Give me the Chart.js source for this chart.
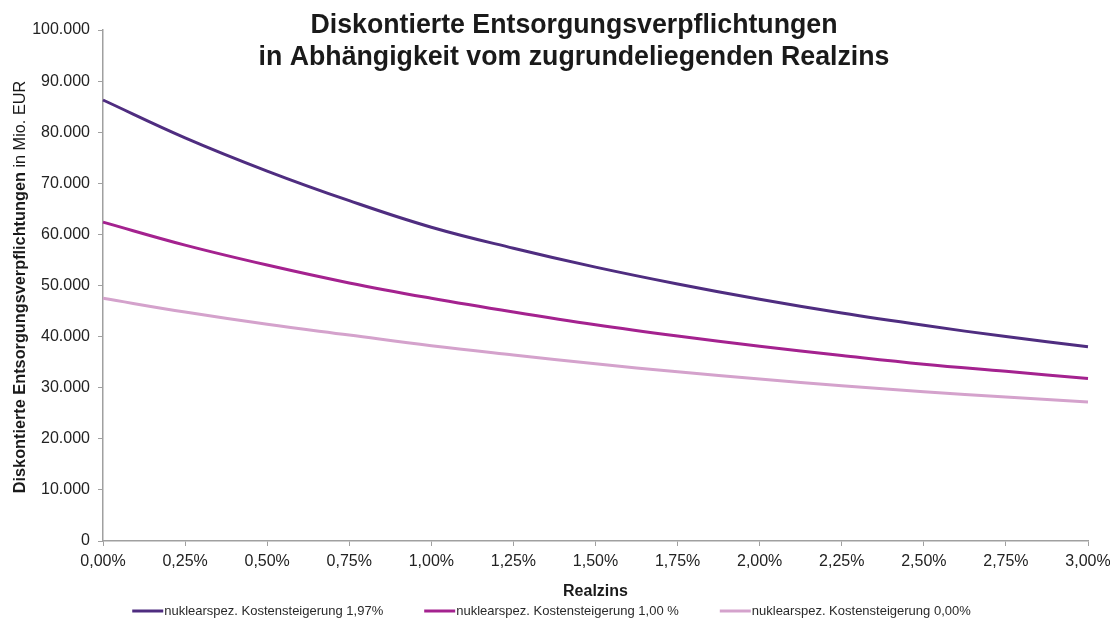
<!DOCTYPE html>
<html>
<head>
<meta charset="utf-8">
<script src="https://cdn.jsdelivr.net/npm/chart.js@4/dist/chart.umd.min.js"></script>
<style>
  html, body { margin: 0; padding: 0; background: #fff; }
  #wrap { width: 1110px; height: 620px; }
</style>
</head>
<body>
<div id="wrap"><canvas id="chart" width="1110" height="620"></canvas></div>
<script>
const labels = ["0,00%", "0,25%", "0,50%", "0,75%", "1,00%", "1,25%", "1,50%", "1,75%", "2,00%", "2,25%", "2,50%", "2,75%", "3,00%"];
const kosten197 = [86300, 78900, 72400, 66600, 61400, 57300, 53600, 50300, 47300, 44600, 42200, 40000, 38000];
const kosten100 = [62400, 57900, 54000, 50500, 47500, 44800, 42300, 40100, 38100, 36300, 34600, 33200, 31800];
const kosten000 = [47500, 44800, 42400, 40300, 38200, 36400, 34700, 33100, 31700, 30400, 29200, 28200, 27200];

const FONT = "'Liberation Sans', Arial, sans-serif";

// Titel, Y-Achsentitel (fett + normal gemischt) und Legende selbst zeichnen
const extrasPlugin = {
  id: "extras",
  afterDraw(chart) {
    const c = chart.ctx;
    c.save();
    c.fillStyle = "#1a1a1a";
    c.textAlign = "center";
    c.textBaseline = "alphabetic";
    c.font = "bold 27.5px " + FONT;
    // Schrift im Original ist etwas schmaler -> horizontal stauchen
    const sx = 527 / c.measureText("Diskontierte Entsorgungsverpflichtungen").width;
    c.save();
    c.translate(574, 0);
    c.scale(sx, 1);
    c.fillText("Diskontierte Entsorgungsverpflichtungen", 0, 33);
    c.fillText("in Abhängigkeit vom zugrundeliegenden Realzins", 0, 65);
    c.restore();

    c.textBaseline = "middle";
    const boldPart = "Diskontierte Entsorgungsverpflichtungen";
    const normPart = " in Mio. EUR";
    c.save();
    c.translate(21, 287);
    c.rotate(-Math.PI / 2);
    c.font = "bold 16.3px " + FONT;
    const wb = c.measureText(boldPart).width;
    c.font = "16.3px " + FONT;
    const wn = c.measureText(normPart).width;
    const x0 = -(wb + wn) / 2;
    c.textAlign = "left";
    c.font = "bold 16.3px " + FONT;
    c.fillText(boldPart, x0, 0);
    c.font = "16.3px " + FONT;
    c.fillText(normPart, x0 + wb, 0);
    c.restore();

    // Legende
    const lineW = 31, gap = 42, ly = 611;
    c.font = "13px " + FONT;
    c.textAlign = "left";
    const items = chart.data.datasets.map(d => ({ text: d.label, color: d.borderColor, w: lineW + c.measureText(d.label).width }));
    const total = items.reduce((s, it) => s + it.w, 0) + gap * (items.length - 1);
    let x = 551 - total / 2;
    items.forEach(it => {
      c.strokeStyle = it.color;
      c.lineWidth = 3;
      c.beginPath();
      c.moveTo(x, ly);
      c.lineTo(x + lineW, ly);
      c.stroke();
      c.fillStyle = "#2a2a2a";
      c.fillText(it.text, x + lineW + 1, ly);
      x += it.w + gap;
    });
    c.restore();
  }
};

function ds(label, data, color) {
  return { label, data, borderColor: color, backgroundColor: color, borderWidth: 3,
    pointRadius: 0, tension: 0.4, fill: false };
}

new Chart(document.getElementById("chart"), {
  type: "line",
  data: {
    labels,
    datasets: [
      ds("nuklearspez. Kostensteigerung 1,97%", kosten197, "#4f2d80"),
      ds("nuklearspez. Kostensteigerung 1,00 %", kosten100, "#a4228f"),
      ds("nuklearspez. Kostensteigerung 0,00%", kosten000, "#d4a2cc")
    ]
  },
  options: {
    responsive: false,
    animation: false,
    layout: { padding: { top: 30, right: 22, left: 0, bottom: 19 } },
    plugins: {
      legend: { display: false },
      tooltip: { enabled: false }
    },
    scales: {
      x: {
        afterFit(scale) { scale.height = 60; scale.paddingRight = 0; scale.paddingLeft = 0; },
        grid: { display: true, drawOnChartArea: false, drawTicks: true, tickLength: 5, color: "#a0a0a0" },
        border: { color: "#a0a0a0", width: 1.5 },
        ticks: { color: "#222", font: { family: FONT, size: 16 }, padding: 6, maxRotation: 0, autoSkip: false },
        title: { display: true, text: "Realzins", color: "#1a1a1a", font: { family: FONT, size: 16, weight: "bold" }, padding: { top: 4, bottom: 0 } }
      },
      y: {
        min: 0, max: 100000,
        afterFit(scale) { scale.width = 103; scale.paddingTop = 0; scale.paddingBottom = 0; },
        grid: { display: true, drawOnChartArea: false, drawTicks: true, tickLength: 5, color: "#a0a0a0" },
        border: { color: "#a0a0a0", width: 1.5 },
        ticks: {
          stepSize: 10000, color: "#222", font: { family: FONT, size: 16 }, padding: 8,
          callback: v => v === 0 ? "0" : v.toLocaleString("de-DE")
        }
      }
    }
  },
  plugins: [extrasPlugin]
});
</script>
</body>
</html>
